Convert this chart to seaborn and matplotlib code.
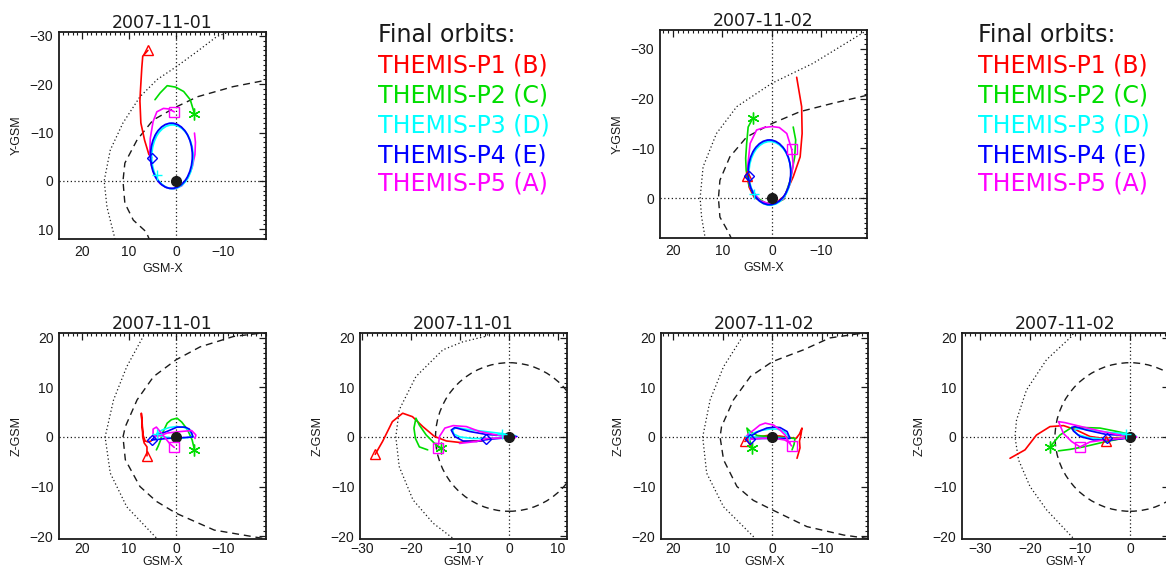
import matplotlib
matplotlib.use("Agg")
import matplotlib.pyplot as plt
import seaborn as sns
from matplotlib.patches import Ellipse, Circle
from matplotlib.ticker import MultipleLocator

# ---------------- data (GSM coordinates, Earth radii) ----------------
DATES = ["2007-11-01", "2007-11-02"]
PROBE_LABELS = ["THEMIS-P1 (B)", "THEMIS-P2 (C)", "THEMIS-P3 (D)",
                "THEMIS-P4 (E)", "THEMIS-P5 (A)"]
PROBE_COLORS = ["#ff0000", "#00dd00", "#00ffff", "#0000ff", "#ff00ff"]
LEGEND_TITLE = "Final orbits:"

# Day 1, X-Y plane
D1_XY_BS_X = [12.4, 13.0, 14.7, 15.3, 14.0, 11.3, 7.7, 4.0, 0.0, -4.5, -8.7, -17.0]
D1_XY_BS_Y = [13.5, 12.0, 5.4, 0.0, -6.4, -12.0, -17.4, -21.0, -23.6, -26.8, -29.9, -32.8]
D1_XY_MP_X = [5.5, 6.4, 9.1, 10.9, 11.3, 10.9, 8.3, 4.9, 0.0, -4.5, -12.1, -20.0]
D1_XY_MP_Y = [12.5, 10.5, 8.1, 4.6, 0.0, -3.7, -8.5, -12.6, -15.3, -17.4, -19.5, -21.0]
D1_XY_P1_X = [6.0, 7.1, 7.3, 7.6, 7.7, 7.5, 6.7, 5.8, 5.2]
D1_XY_P1_Y = [-27.0, -25.8, -23.4, -18.5, -16.5, -12.0, -8.4, -5.5, -4.8]
D1_XY_P2_X = [-3.9, -3.0, -1.6, 0.1, 1.9, 3.4, 4.5]
D1_XY_P2_Y = [-13.9, -16.8, -18.5, -19.4, -19.7, -18.2, -16.8]
D1_XY_P3_ELLIPSE = [0.8, -5.0, 8.8, 13.2]     # centre x, centre y, width, height
D1_XY_P4_ELLIPSE = [1.0, -5.2, 8.9, 13.5]
D1_XY_P5_X = [0.4, 1.6, 2.7, 4.1, 4.9, 5.5, 5.6, 5.3, 4.6, 3.5, 2.0, 0.3, -1.2, -2.4, -3.4, -4.0, -4.1, -3.9]
D1_XY_P5_Y = [-14.3, -14.9, -15.0, -14.3, -12.3, -8.8, -6.0, -3.5, -1.2, 0.5, 1.4, 1.6, 1.0, -0.5, -2.8, -5.5, -8.0, -9.9]
D1_XY_MARK_X = [6.0, -3.9, 4.1, 5.1, 0.4]
D1_XY_MARK_Y = [-27.0, -13.9, -1.2, -4.8, -14.3]

# Day 2, X-Y plane
D2_XY_BS_X = [13.3, 13.5, 14.2, 14.5, 13.9, 11.2, 7.1, 0.0, -8.3, -18.8, -22.0]
D2_XY_BS_Y = [9.0, 7.9, 3.8, 0.0, -6.3, -13.0, -18.4, -23.1, -27.1, -33.5, -35.5]
D2_XY_MP_X = [8.0, 8.8, 10.5, 10.8, 10.5, 8.5, 5.1, 0.0, -5.7, -12.4, -19.3, -22.0]
D2_XY_MP_Y = [8.5, 6.8, 3.8, 0.0, -3.6, -8.3, -12.3, -15.0, -17.4, -19.1, -20.7, -21.3]
D2_XY_P1_X = [5.1, 4.8, 4.6, 3.6, 1.8, -0.6, -2.6, -4.3, -5.7, -6.1, -6.0, -5.0]
D2_XY_P1_Y = [-4.4, -3.5, -2.2, -0.2, 0.9, 1.1, -0.5, -4.3, -8.3, -13.0, -18.4, -24.3]
D2_XY_P2_X = [3.8, 4.8, 5.1, 5.3, 5.2, 4.6, 3.2, 1.2, -1.0, -2.4, -3.7, -4.6, -4.8, -4.3]
D2_XY_P2_Y = [-16.2, -14.3, -11.0, -8.0, -5.6, -2.5, -0.2, 1.0, 0.9, 0.2, -3.6, -8.3, -11.7, -14.3]
D2_XY_P3_ELLIPSE = [0.4, -5.0, 8.5, 12.8]
D2_XY_P4_ELLIPSE = [0.5, -5.2, 8.6, 13.0]
D2_XY_P5_X = [-4.0, -3.0, -1.5, 0.0, 1.6, 3.1, 4.4, 4.9, 4.4, 2.4, 0.0, -2.3, -3.6, -4.3, -4.0]
D2_XY_P5_Y = [-9.8, -13.0, -14.2, -14.4, -14.2, -13.7, -11.0, -6.3, -2.2, 0.5, 1.3, 0.2, -2.8, -6.7, -9.8]
D2_XY_MARK_X = [5.1, 3.8, 3.6, 4.7, -4.0]
D2_XY_MARK_Y = [-4.4, -16.2, -0.9, -4.4, -9.8]

# Day 1, X-Z plane
D1_XZ_BS_X = [2.6, 4.1, 10.5, 14.0, 15.1, 13.3, 10.5, 6.6, 5.7]
D1_XZ_BS_Z = [-22.0, -20.5, -14.1, -7.3, 0.0, 7.5, 14.2, 21.0, 22.5]
D1_XZ_MP_X = [-20.0, -12.2, -5.1, 0.0, 4.8, 8.3, 10.8, 11.3, 10.8, 7.7, 4.2, 0.0, -8.1, -18.6, -20.0]
D1_XZ_MP_Z = [21.2, 20.3, 18.2, 15.6, 12.2, 7.5, 2.1, 0.0, -4.6, -10.0, -13.0, -15.4, -18.8, -20.5, -20.7]
D1_XZ_P1_X = [6.2, 6.2, 6.8, 7.1, 7.2, 7.4, 7.2, 7.0, 6.6, 6.0, 5.3]
D1_XZ_P1_Z = [-3.8, -2.0, -1.2, 0.0, 2.5, 4.8, 2.0, 0.3, -0.8, -1.0, -0.8]
D1_XZ_P2_X = [-3.9, -3.4, -2.4, -1.2, -0.2, 1.0, 1.9, 2.8, 3.3, 3.8, 4.2]
D1_XZ_P2_Z = [-2.6, -0.6, 1.5, 3.0, 3.8, 3.5, 2.8, 1.0, -0.6, -1.8, -2.6]
D1_XZ_P3_X = [4.1, 3.0, 1.5, 0.0, -1.5, -2.6, -3.3, -3.5, -1.5, 1.0, 3.0, 4.1]
D1_XZ_P3_Z = [0.7, 1.4, 1.9, 2.1, 2.0, 1.5, 0.6, 0.0, -0.2, -0.2, 0.1, 0.7]
D1_XZ_P4_X = [5.2, 4.3, 3.5, 2.0, -0.2, -1.9, -2.8, -3.3, -3.6, -2.0, 0.0, 2.0, 4.0, 5.2]
D1_XZ_P4_Z = [-0.6, 0.2, 0.6, 1.1, 2.0, 2.0, 1.6, 0.8, 0.0, -0.1, -0.2, -0.3, -0.5, -0.6]
D1_XZ_P5_X = [0.4, 1.4, 2.5, 3.5, 4.2, 4.9, 4.9, 4.2, 3.0, 1.9, -0.9, -3.3, -4.2, -4.0]
D1_XZ_P5_Z = [-2.1, -1.3, 0.0, 1.2, 2.0, 1.6, 0.4, 0.1, 0.4, 0.8, 1.1, 1.3, 0.4, -0.3]
D1_XZ_MARK_X = [6.2, -3.9, 4.1, 5.2, 0.4]
D1_XZ_MARK_Z = [-3.8, -2.6, 0.7, -0.6, -2.1]

# Day 1, Y-Z plane
D1_YZ_BS_Y = [-3.0, -4.9, -9.5, -13.5, -19.0, -22.4, -23.1, -22.4, -19.6, -15.5, -11.4, -10.5]
D1_YZ_BS_Z = [21.5, 20.3, 19.2, 17.6, 12.2, 5.5, 0.0, -6.0, -12.7, -17.4, -20.5, -21.5]
MP_YZ_RADIUS = 15.0
D1_YZ_P1_Y = [-27.3, -25.8, -23.8, -21.7, -19.7, -17.6, -15.2, -12.8, -10.1, -8.0, -5.5]
D1_YZ_P1_Z = [-3.5, -0.9, 3.1, 4.8, 4.1, 2.1, 0.1, -0.8, -1.1, -0.8, -0.8]
D1_YZ_P2_Y = [-13.8, -15.2, -16.9, -18.3, -19.0, -19.4, -19.1, -18.3, -16.6]
D1_YZ_P2_Z = [-2.3, -1.3, 0.4, 2.4, 3.8, 1.8, -0.3, -2.0, -2.6]
D1_YZ_P3_Y = [-1.5, -4.0, -6.5, -9.0, -10.8, -11.5, -11.3, -10.0, -7.5, -4.5, -2.0, 0.0, 1.2, -1.5]
D1_YZ_P3_Z = [0.7, 1.0, 1.3, 1.6, 1.9, 1.4, 0.6, 0.0, -0.3, -0.3, -0.1, 0.1, 0.3, 0.7]
D1_YZ_P4_Y = [-4.5, -6.6, -9.4, -11.1, -11.8, -11.1, -8.0, -4.6, -1.0, 1.6, -1.0, -4.5]
D1_YZ_P4_Z = [-0.5, -0.9, -0.8, 0.1, 1.4, 1.9, 1.1, 0.5, 0.3, 0.1, -0.2, -0.5]
D1_YZ_P5_Y = [-14.5, -14.2, -13.1, -11.4, -8.7, -6.0, -2.5, 0.0, 1.3, -1.5, -4.6, -6.6, -10.1]
D1_YZ_P5_Z = [-2.2, 0.1, 1.8, 2.3, 2.1, 1.1, 0.4, 0.1, -0.1, -0.2, -0.3, -0.9, -1.3]
D1_YZ_MARK_Y = [-27.3, -13.8, -1.5, -4.7, -14.5]
D1_YZ_MARK_Z = [-3.5, -2.3, 0.7, -0.4, -2.2]

# Day 2, X-Z plane
D2_XZ_BS_X = [3.0, 3.8, 9.8, 13.2, 14.0, 12.5, 9.8, 5.5, 4.8]
D2_XZ_BS_Z = [-21.5, -20.1, -14.1, -7.3, 0.0, 7.5, 14.2, 21.0, 22.0]
D2_XZ_MP_X = [-20.0, -18.4, -11.6, -6.3, 0.0, 4.4, 7.8, 10.2, 10.5, 9.8, 7.1, 3.8, 0.0, -7.0, -14.4, -20.0]
D2_XZ_MP_Z = [21.3, 21.0, 20.0, 17.6, 15.2, 12.2, 7.5, 2.1, 0.0, -4.6, -10.0, -12.8, -14.7, -18.1, -19.8, -20.6]
D2_XZ_P1_X = [5.5, 4.5, 3.0, 1.0, -1.5, -3.5, -4.8, -5.5, -6.0, -5.8, -5.5, -5.6, -5.0]
D2_XZ_P1_Z = [-0.9, -0.4, 0.0, 0.3, 0.2, -0.1, -0.3, 0.6, 1.8, 0.5, -0.8, -2.2, -4.3]
D2_XZ_P2_X = [4.1, 4.6, 5.1, 4.2, 3.0, 1.0, -2.0, -4.6, -4.4, -4.0]
D2_XZ_P2_Z = [-2.3, -0.3, 1.8, 0.9, 0.3, 0.1, -0.1, -0.3, -1.5, -2.6]
D2_XZ_P3_X = [4.6, 3.5, 2.4, 0.5, -1.0, -2.4, -3.2, -3.4, -1.0, 1.5, 3.5, 4.6]
D2_XZ_P3_Z = [0.2, 0.9, 1.3, 1.6, 1.6, 1.1, 0.2, -0.3, -0.2, -0.2, 0.0, 0.2]
D2_XZ_P4_X = [4.4, 4.4, 3.0, 1.1, -0.5, -1.6, -3.0, -3.6, -2.0, 0.0, 2.0, 4.4]
D2_XZ_P4_Z = [-0.4, 0.1, 1.0, 1.8, 2.0, 1.9, 1.1, -0.3, -0.3, -0.3, -0.3, -0.4]
D2_XZ_P5_X = [-3.9, -3.3, -2.6, -1.6, -0.3, 1.4, 2.5, 3.6, 4.8, 5.3, 4.8, 3.0, 0.0, -2.5, -3.6]
D2_XZ_P5_Z = [-1.8, -1.0, 0.4, 1.4, 2.4, 2.8, 2.4, 1.5, 0.6, 0.0, -0.5, -0.3, -0.2, -0.6, -1.2]
D2_XZ_MARK_X = [5.5, 4.1, 4.6, 4.4, -3.9]
D2_XZ_MARK_Z = [-0.9, -2.3, 0.2, -0.4, -1.8]

# Day 2, Y-Z plane
D2_YZ_BS_Y = [-11.0, -11.7, -16.7, -20.7, -22.7, -23.0, -22.3, -20.0, -16.7, -11.3, -10.5]
D2_YZ_BS_Z = [21.5, 20.3, 15.6, 9.5, 3.4, 0.0, -4.6, -10.0, -14.7, -20.5, -21.5]
D2_YZ_P1_Y = [-4.8, -2.5, 0.0, 1.0, -2.0, -5.3, -8.0, -10.7, -13.3, -16.0, -18.7, -21.0, -24.0]
D2_YZ_P1_Z = [-0.8, -0.4, -0.1, 0.1, -0.1, -0.3, 0.1, 1.4, 2.3, 2.1, 0.4, -2.6, -4.3]
D2_YZ_P2_Y = [-16.1, -14.0, -11.7, -9.0, -6.0, -3.0, -0.7, 0.8, -1.0, -4.7, -9.3, -12.0, -14.3]
D2_YZ_P2_Z = [-2.1, 0.4, 1.9, 1.9, 1.8, 1.2, 0.7, 0.2, -0.2, -0.9, -2.0, -2.5, -2.8]
D2_YZ_P3_Y = [-0.8, -4.0, -7.5, -10.5, -11.2, -10.5, -8.5, -5.5, -2.5, 0.0, 1.2, -0.8]
D2_YZ_P3_Z = [0.7, 0.9, 1.4, 1.7, 1.3, 0.5, -0.1, -0.4, -0.3, 0.0, 0.2, 0.7]
D2_YZ_P4_Y = [-4.7, -7.3, -10.0, -11.3, -11.7, -11.0, -8.7, -4.7, 0.0, 1.3, 0.0, -4.0, -4.7]
D2_YZ_P4_Z = [-0.6, -0.6, 0.1, 1.2, 1.9, 2.1, 1.4, 0.5, 0.3, 0.0, -0.2, -0.6, -0.6]
D2_YZ_P5_Y = [-10.0, -11.7, -13.3, -14.3, -13.0, -11.0, -8.5, -5.5, -2.5, 0.0, 1.3, -2.0, -5.0, -8.0, -10.0]
D2_YZ_P5_Z = [-2.0, -0.9, 0.7, 3.1, 2.9, 2.4, 1.8, 1.1, 0.5, 0.1, 0.0, -0.3, -0.6, -1.0, -2.0]
D2_YZ_MARK_Y = [-4.8, -16.1, -0.8, -4.7, -10.0]
D2_YZ_MARK_Z = [-0.8, -2.1, 0.7, -0.3, -2.0]

EARTH_POS = [0.0, 0.0]

# ---------------- style ----------------
sns.set_theme(style="white")
plt.rcParams["font.family"] = ["Liberation Sans", "DejaVu Sans"]
plt.rcParams["axes.unicode_minus"] = True
WIDE_FONT = ["DejaVu Sans"]

W, H = 1166, 572
fig = plt.figure(figsize=(W / 100, H / 100), dpi=100)
fig.patch.set_facecolor("white")

MARKERS = ["^", (6, 2, 0), "+", "D", "s"]
MSIZES = [7, 8.5, 7, 5.5, 7]
DOT = (0, (1, 2.0))
DASH = (0, (5, 3.5))


def rect(px_left, px_top, px_w=207, px_h=207):
    return [px_left / W, 1 - (px_top + px_h) / H, px_w / W, px_h / H]


def trace(ax, xs, ys, color, ls="-", lw=1.1):
    sns.lineplot(x=xs, y=ys, sort=False, estimator=None, color=color,
                 linestyle=ls, linewidth=lw, ax=ax, legend=False)


def panel(r, xlim, ylim, xlabel, ylabel, title, bs, mp, orbits, marks,
          mp_radius=None, bottom_row=False):
    ax = fig.add_axes(r)
    ax.set_facecolor("white")
    ax.axhline(0, color="k", lw=0.9, ls=DOT, zorder=1)
    ax.axvline(0, color="k", lw=0.9, ls=DOT, zorder=1)
    trace(ax, bs[0], bs[1], "k", ls=DOT, lw=0.9)
    if mp is not None:
        trace(ax, mp[0], mp[1], "k", ls=DASH, lw=1.0)
    if mp_radius is not None:
        ax.add_patch(Circle((EARTH_POS[0], EARTH_POS[1]), mp_radius, fill=False,
                            edgecolor="k", lw=1.0, ls=DASH))
    for i, orb in enumerate(orbits):
        c = PROBE_COLORS[i]
        if len(orb) == 4 and not isinstance(orb[0], list):
            ax.add_patch(Ellipse((orb[0], orb[1]), orb[2], orb[3], fill=False,
                                 edgecolor=c, lw=1.3, zorder=3))
        else:
            trace(ax, orb[0], orb[1], c, lw=1.2)
    ax.plot([EARTH_POS[0]], [EARTH_POS[1]], "o", color="k", ms=7, zorder=5)
    for i in range(5):
        ax.plot([marks[0][i]], [marks[1][i]], marker=MARKERS[i], ms=MSIZES[i],
                mfc="none", mec=PROBE_COLORS[i], mew=1.0, ls="none", zorder=6)
    ax.set_xlim(*xlim)
    ax.set_ylim(*ylim)
    ax.xaxis.set_major_locator(MultipleLocator(10))
    ax.yaxis.set_major_locator(MultipleLocator(10))
    ax.xaxis.set_minor_locator(MultipleLocator(1))
    ax.yaxis.set_minor_locator(MultipleLocator(1))
    ax.tick_params(which="both", direction="in", top=True, right=True,
                   colors="k", labelsize=10)
    ax.tick_params(which="major", length=5, width=0.9, pad=4)
    ax.tick_params(which="minor", length=2.5, width=0.8)
    if bottom_row:
        ax.tick_params(axis="x", which="major", pad=2)
    for s in ax.spines.values():
        s.set_color("k")
        s.set_linewidth(1.3)
    ax.set_xlabel(xlabel, fontsize=9, labelpad=(0 if bottom_row else 3), color="k")
    ax.set_ylabel(ylabel, fontsize=9, labelpad=5, color="k")
    ax.set_title(title, fontsize=12.5, pad=3, color="k", family=WIDE_FONT)
    return ax


# top row: X-Y
panel(rect(59, 32), (24.9, -19.1), (12.0, -30.8), "GSM-X", "Y-GSM", DATES[0],
      (D1_XY_BS_X, D1_XY_BS_Y), (D1_XY_MP_X, D1_XY_MP_Y),
      [(D1_XY_P1_X, D1_XY_P1_Y), (D1_XY_P2_X, D1_XY_P2_Y), D1_XY_P3_ELLIPSE,
       D1_XY_P4_ELLIPSE, (D1_XY_P5_X, D1_XY_P5_Y)],
      (D1_XY_MARK_X, D1_XY_MARK_Y))
panel(rect(660, 30, 207, 208), (22.6, -19.2), (8.0, -33.8), "GSM-X", "Y-GSM", DATES[1],
      (D2_XY_BS_X, D2_XY_BS_Y), (D2_XY_MP_X, D2_XY_MP_Y),
      [(D2_XY_P1_X, D2_XY_P1_Y), (D2_XY_P2_X, D2_XY_P2_Y), D2_XY_P3_ELLIPSE,
       D2_XY_P4_ELLIPSE, (D2_XY_P5_X, D2_XY_P5_Y)],
      (D2_XY_MARK_X, D2_XY_MARK_Y))

# bottom row
panel(rect(59, 333, 207, 206), (24.9, -19.1), (-20.6, 21.0), "GSM-X", "Z-GSM", DATES[0],
      (D1_XZ_BS_X, D1_XZ_BS_Z), (D1_XZ_MP_X, D1_XZ_MP_Z),
      [(D1_XZ_P1_X, D1_XZ_P1_Z), (D1_XZ_P2_X, D1_XZ_P2_Z), (D1_XZ_P3_X, D1_XZ_P3_Z),
       (D1_XZ_P4_X, D1_XZ_P4_Z), (D1_XZ_P5_X, D1_XZ_P5_Z)],
      (D1_XZ_MARK_X, D1_XZ_MARK_Z), bottom_row=True)
panel(rect(360, 333, 207, 206), (-30.4, 11.8), (-20.6, 21.0), "GSM-Y", "Z-GSM", DATES[0],
      (D1_YZ_BS_Y, D1_YZ_BS_Z), None,
      [(D1_YZ_P1_Y, D1_YZ_P1_Z), (D1_YZ_P2_Y, D1_YZ_P2_Z), (D1_YZ_P3_Y, D1_YZ_P3_Z),
       (D1_YZ_P4_Y, D1_YZ_P4_Z), (D1_YZ_P5_Y, D1_YZ_P5_Z)],
      (D1_YZ_MARK_Y, D1_YZ_MARK_Z), mp_radius=MP_YZ_RADIUS, bottom_row=True)
panel(rect(661, 333, 207, 206), (22.4, -19.3), (-20.6, 21.0), "GSM-X", "Z-GSM", DATES[1],
      (D2_XZ_BS_X, D2_XZ_BS_Z), (D2_XZ_MP_X, D2_XZ_MP_Z),
      [(D2_XZ_P1_X, D2_XZ_P1_Z), (D2_XZ_P2_X, D2_XZ_P2_Z), (D2_XZ_P3_X, D2_XZ_P3_Z),
       (D2_XZ_P4_X, D2_XZ_P4_Z), (D2_XZ_P5_X, D2_XZ_P5_Z)],
      (D2_XZ_MARK_X, D2_XZ_MARK_Z), bottom_row=True)
panel(rect(962, 333, 207, 206), (-33.6, 7.8), (-20.6, 21.0), "GSM-Y", "Z-GSM", DATES[1],
      (D2_YZ_BS_Y, D2_YZ_BS_Z), None,
      [(D2_YZ_P1_Y, D2_YZ_P1_Z), (D2_YZ_P2_Y, D2_YZ_P2_Z), (D2_YZ_P3_Y, D2_YZ_P3_Z),
       (D2_YZ_P4_Y, D2_YZ_P4_Z), (D2_YZ_P5_Y, D2_YZ_P5_Z)],
      (D2_YZ_MARK_Y, D2_YZ_MARK_Z), mp_radius=MP_YZ_RADIUS, bottom_row=True)

# legends ("Final orbits:")
LEG_ROWS_PX = [65, 96, 126, 155, 184]
for lx in (378, 978):
    fig.text(lx / W, 1 - 35 / H, LEGEND_TITLE, fontsize=17, color="k",
             va="center", ha="left", family=WIDE_FONT)
    for i, lab in enumerate(PROBE_LABELS):
        fig.text(lx / W, 1 - LEG_ROWS_PX[i] / H, lab, fontsize=17,
                 color=PROBE_COLORS[i], va="center", ha="left", family=WIDE_FONT)

fig.savefig("out.png", dpi=100, facecolor="white")
